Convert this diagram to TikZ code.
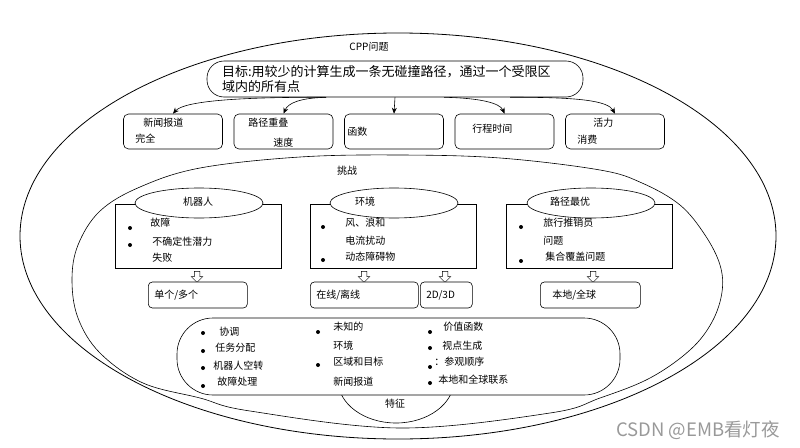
\documentclass[tikz,border=0pt]{standalone}
\usepackage{fontspec}
\newfontfamily\cjkfont{Noto Sans CJK SC}
\usetikzlibrary{shapes.geometric,shapes.arrows,arrows.meta}

\tikzset{
  topbox/.style={draw, fill=white, rounded corners=5pt, minimum width=99pt, minimum height=35pt},
  groupbox/.style={draw, fill=white, minimum width=166pt, minimum height=64pt},
  header/.style={draw, ellipse, fill=white, minimum width=128pt, minimum height=30pt},
  smallbox/.style={draw, fill=white, rounded corners=4pt, minimum height=26pt, inner xsep=6pt,
    text width=#1, align=left, anchor=west},
  hollow/.style={draw, fill=white, single arrow, rotate=-90, minimum height=11pt, minimum width=11pt,
    single arrow head extend=3pt, inner xsep=0pt, inner ysep=2.5pt, line width=0.5pt},
  item/.style={anchor=west, inner sep=0pt},
  link/.style={-{Stealth[length=6pt,width=5pt]}},
}

\begin{document}
\begin{tikzpicture}[x=1pt, y=-1pt, line width=0.6pt, font=\cjkfont\fontsize{10}{12}\selectfont]
\useasboundingbox (0,0) rectangle (800,447);

  % outer problem and inner challenges
  \node [draw, ellipse, minimum width=756pt, minimum height=406pt, line width=0.8pt] (cpp) at (398,236) {};
  \node (cpplbl) at (369,47) {CPP问题};
  \draw plot [smooth cycle, tension=0.6] coordinates {(72,280) (78,245) (100,211) (140,187) (200,168)
    (300,157) (400,155) (500,158) (600,170) (642,183) (680,205) (705,235) (720,265) (722,292)
    (712,322) (690,350) (650,378) (600,398) (550,413) (400,428) (250,411) (200,398) (143,383)
    (100,353) (78,318)};
  \node (challenge) at (347,171) {挑战};

  % goal
  \node [draw, fill=white, rounded corners=17pt, minimum width=376pt, minimum height=36pt,
    text width=346pt, align=left, inner sep=1pt, font=\cjkfont\fontsize{13}{15}\selectfont]
    (goal) at (395,79) {目标:用较少的计算生成一条无碰撞路径，通过一个受限区\\域内的所有点};

  \node [topbox] (cover) at (173,131.5) {};
  \node [topbox] (overlap) at (283.5,131.5) {};
  \node [topbox] (cost) at (394,131.5) {};
  \node [topbox] (time) at (504.5,131.5) {};
  \node [topbox] (energy) at (615,131.5) {};

  \node [item] (coverlbl) at (143,123) {新闻报道};
  \node [item] (coverlblb) at (135,139) {完全};
  \node [item] (overlaplbl) at (248,123) {路径重叠};
  \node [item] (overlaplblb) at (273,143) {速度};
  \node [item] (costlbl) at (347,132) {函数};
  \node [item] (timelbl) at (472,129) {行程时间};
  \node [item] (energylbl) at (593,123) {活力};
  \node [item] (energylblb) at (577,140) {消费};

  \draw [link] ([xshift=-69pt]goal.south) .. controls (250,97) and (185,100) .. (cover.north);
  \draw [link] ([xshift=-69pt]goal.south) .. controls (300,98) and (288,103) .. (overlap.north);
  \draw [link] (goal.south) -- (cost.north);
  \draw [link] ([xshift=49pt]goal.south) .. controls (480,98) and (500,103) .. (time.north);
  \draw [link] ([xshift=115pt]goal.south) .. controls (580,97) and (608,101) .. (energy.north);

  % robot
  \node [groupbox] (robot) at (198.5,236) {};
  \node [header] (robothead) at (199,203) {};
  \node (robotlbl) at (198,202) {机器人};
  \fill (130,228) circle (2pt) (130,245) circle (2pt);
  \node [item] (fault) at (150,223) {故障};
  \node [item] (uncertain) at (152,242) {不确定性潜力};
  \node [item] (failure) at (152,258) {失败};

  % environment
  \node [groupbox] (env) at (393.5,236) {};
  \node [header] (envhead) at (394,203) {};
  \node (envlbl) at (365,202) {环境};
  \fill (323,227) circle (2pt) (323,260) circle (2pt);
  \node [item] (wind) at (345,223) {风、浪和};
  \node [item] (current) at (345,241) {电流扰动};
  \node [item] (obstacle) at (345,257) {动态障碍物};

  % optimal path
  \node [groupbox] (path) at (589.5,236) {};
  \node [header] (pathhead) at (591,203) {};
  \node (pathlbl) at (570,202) {路径最优};
  \fill (521,227) circle (2pt) (521,261) circle (2pt);
  \node [item] (salesman) at (543,223) {旅行推销员};
  \node [item] (salesmanb) at (543,241) {问题};
  \node [item] (setcover) at (545,257) {集合覆盖问题};

  \node [hollow] (robotdown) at (197,275.5) {};
  \node [hollow] (envdown) at (364,275.5) {};
  \node [hollow] (envdownb) at (445,275.5) {};
  \node [hollow] (pathdown) at (593,275.5) {};

  \node [smallbox=87pt] (count) at (148,295) {单个/多个};
  \node [smallbox=96pt] (online) at (310,295) {在线/离线};
  \node [smallbox=40pt] (dim) at (420,295) {2D/3D};
  \node [smallbox=88pt] (scope) at (540,295) {\hspace*{6pt}本地/全球};

  % features
  \node [draw, ellipse, fill=white, minimum width=116pt, minimum height=86pt] (featring) at (396,380) {};
  \node [draw, fill=white, rounded corners=36pt, minimum width=443pt, minimum height=77pt] (features) at (398.5,356.5) {};
  \node (featlbl) at (395,404) {特征};

  \fill (203,333) circle (2pt) (203,351) circle (2pt) (203,368) circle (2pt) (203,386) circle (2pt);
  \node [item] (coord) at (219,332) {协调};
  \node [item] (assign) at (215,348) {任务分配};
  \node [item] (idle) at (213,366) {机器人空转};
  \node [item] (handling) at (217,382) {故障处理};

  \fill (318,332) circle (2pt) (318,365) circle (2pt);
  \node [item] (unknown) at (333,327) {未知的};
  \node [item] (unknownb) at (333,346) {环境};
  \node [item] (region) at (333,362) {区域和目标};
  \node [item] (regionb) at (333,382) {新闻报道};

  \fill (430,332) circle (2pt) (430,348) circle (2pt) (430,367) circle (2pt) (430,383) circle (2pt);
  \node [item] (value) at (443,327) {价值函数};
  \node [item] (view) at (442,346) {视点生成};
  \node [item] (order) at (434,362) {：参观顺序};
  \node [item] (link) at (438,380) {本地和全球联系};

  \node [text=black!40, font=\cjkfont\fontsize{18.5}{20}\selectfont] (mark) at (698,430) {CSDN @EMB看灯夜};

\end{tikzpicture}
\end{document}
